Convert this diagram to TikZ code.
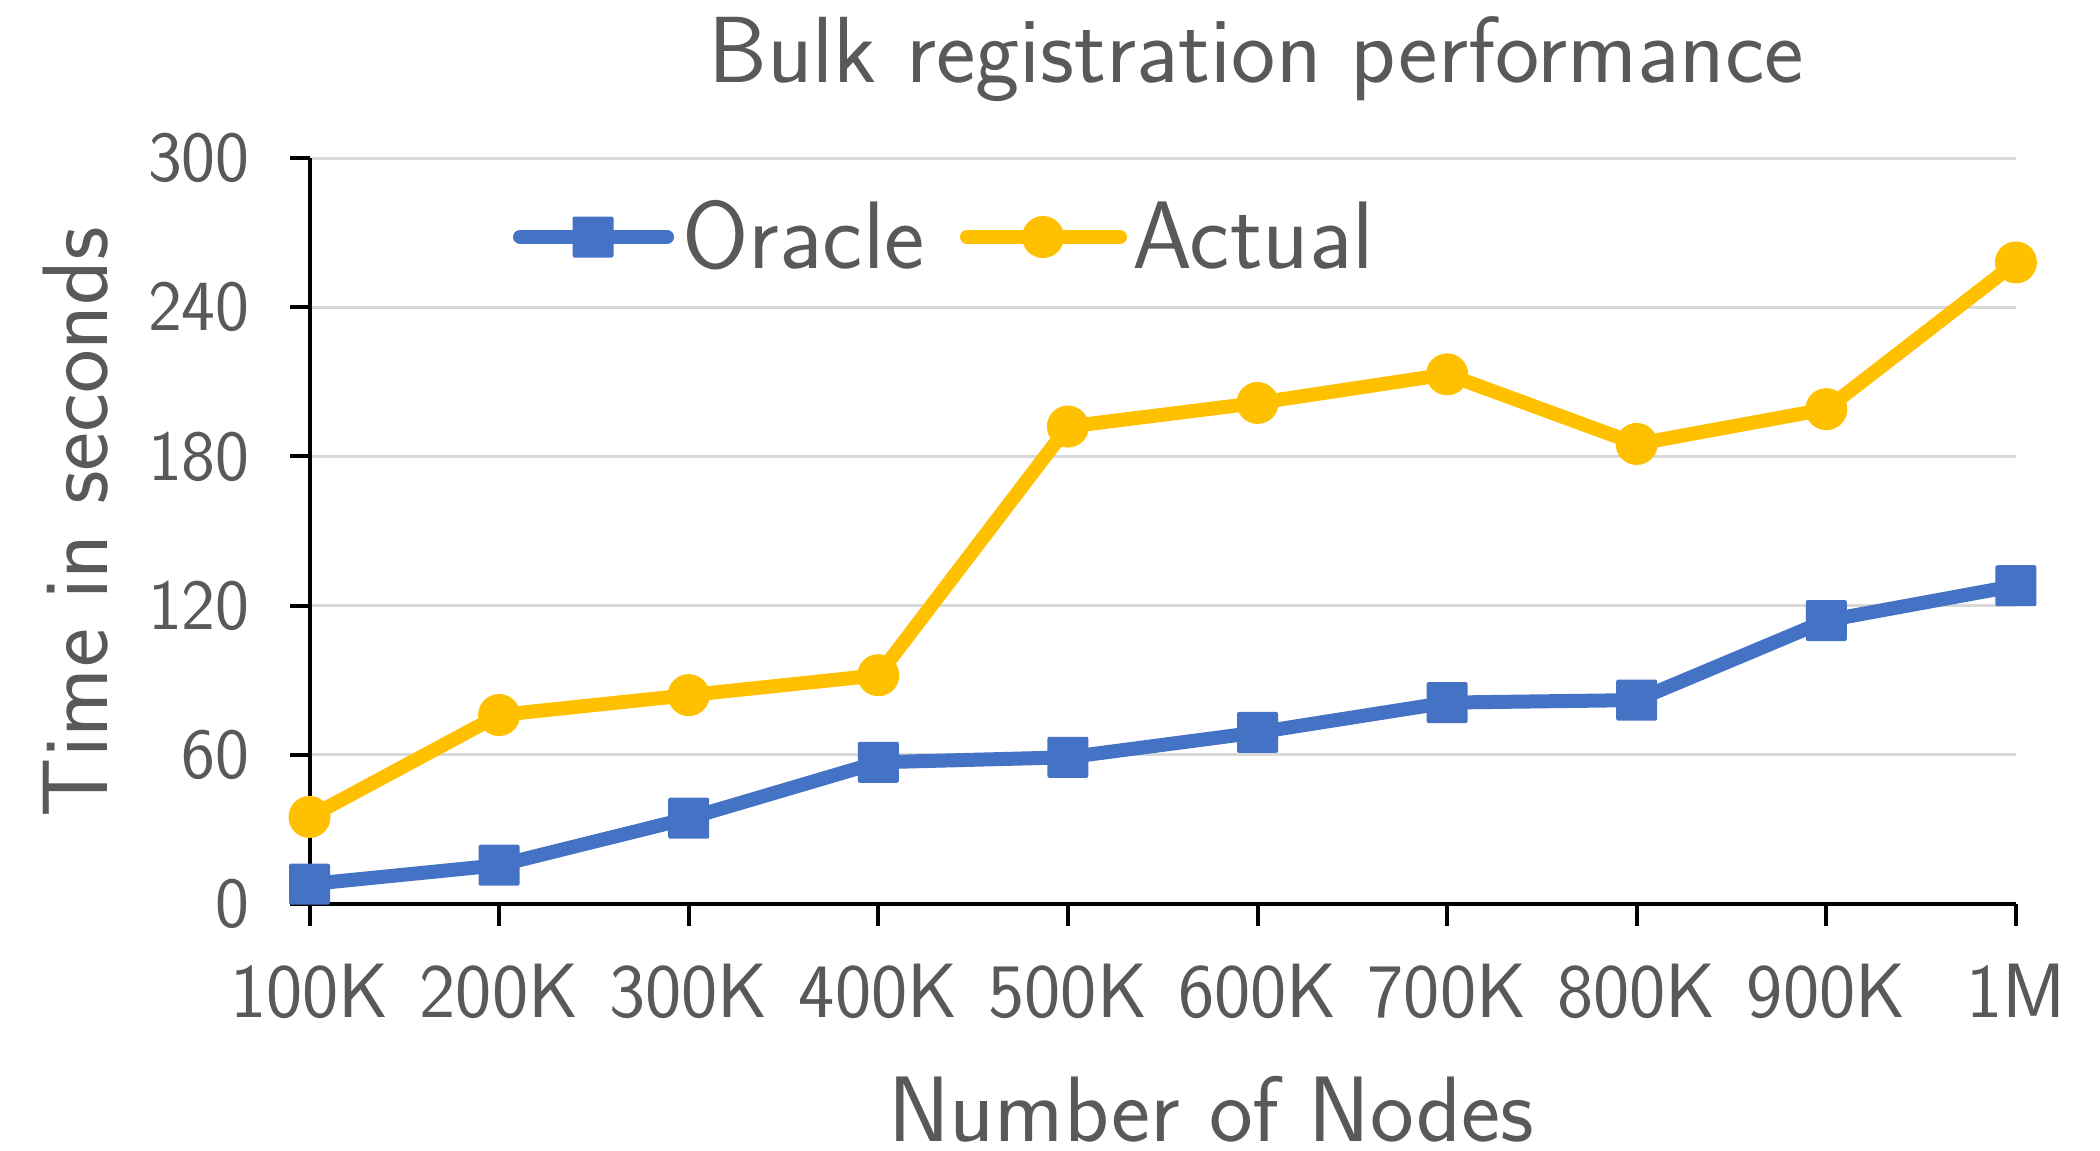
\documentclass[tikz,border=0pt]{standalone}
\definecolor{oraclec}{HTML}{4472C4}
\definecolor{actualc}{HTML}{FFC000}
\definecolor{txt}{HTML}{595959}
\definecolor{gridc}{HTML}{D9D9D9}
\begin{document}
\begin{tikzpicture}[x=0.5pt,y=-0.5pt,font=\sffamily,
  every node/.style={text=txt,inner sep=0pt},
  gridline/.style={draw=gridc,line width=1.5pt},
  axisline/.style={draw=black,line width=2pt},
  oline/.style={draw=oraclec,line width=7pt,line join=round,line cap=round},
  aline/.style={draw=actualc,line width=7pt,line join=round,line cap=round},
  osq/.style={fill=oraclec,minimum size=20.5pt,rounded corners=1pt,draw=none},
  acirc/.style={circle,fill=actualc,minimum size=21pt,draw=none},
  ticklab/.style={font=\sffamily\fontsize{36}{42}\selectfont},
  xlab/.style={font=\sffamily\fontsize{38.5}{46}\selectfont},
  axtitle/.style={font=\sffamily\fontsize{46.5}{54}\selectfont},
  legtext/.style={font=\sffamily\fontsize{48}{56}\selectfont}]
\useasboundingbox[fill=white] (0,0) rectangle (2100,1151);

% title
\node[font=\sffamily\fontsize{47}{56}\selectfont,anchor=base] (title) at (1256,83) {Bulk registration performance};

% horizontal grid lines and y ticks (2.48667 px per second)
\foreach \v [evaluate=\v as \yy using 904-\v*2.48667] in {60,120,180,240,300}{
  \draw[gridline] (310,\yy) -- (2016,\yy);
}
\foreach \v [evaluate=\v as \yy using 904-\v*2.48667] in {0,60,120,180,240,300}{
  \draw[axisline] (290,\yy) -- (310,\yy);
  \node[ticklab,anchor=east] (yl\v) at (250,\yy) {\v};
}

% axes
\draw[axisline] (310,158) -- (310,904) -- (2016,904);

% x ticks and category labels
\foreach \lab [count=\i from 0, evaluate=\i as \xx using 309.5+189.6*\i] in
  {100K,200K,300K,400K,500K,600K,700K,800K,900K,1M}{
  \draw[axisline] (\xx,904) -- (\xx,926);
  \node[xlab] (xl\i) at (\xx,991) {\lab};
}

% axis titles
\node[axtitle] (xtitle) at (1211,1109) {Number of Nodes};
\node[axtitle,rotate=90] (ytitle) at (76,522) {Time in seconds};

% data points
\foreach \v [count=\i from 0, evaluate=\i as \xx using 309.5+189.6*\i,
             evaluate=\v as \yy using 904-\v*2.48667] in
  {8,15.6,34.5,57,59,69,81,82,114,128}{
  \coordinate (o\i) at (\xx,\yy);
}
\foreach \v [count=\i from 0, evaluate=\i as \xx using 309.5+189.6*\i,
             evaluate=\v as \yy using 904-\v*2.48667] in
  {35,76,84,92,192,201.5,213,185,199,258}{
  \coordinate (a\i) at (\xx,\yy);
}

% series lines
\draw[oline] (o0) -- (o1) -- (o2) -- (o3) -- (o4) -- (o5) -- (o6) -- (o7) -- (o8) -- (o9);
\draw[aline] (a0) -- (a1) -- (a2) -- (a3) -- (a4) -- (a5) -- (a6) -- (a7) -- (a8) -- (a9);

% markers
\foreach \i in {0,...,9}{
  \node[osq] (om\i) at (o\i) {};
  \node[acirc] (am\i) at (a\i) {};
}

% legend
\coordinate (lo1) at (520,237);
\coordinate (lo2) at (667,237);
\draw[oline] (lo1) -- (lo2);
\node[osq] (lom) at (593,237) {};
\node[legtext,anchor=base west] (lot) at (682,268) {Oracle};
\coordinate (la1) at (967,237);
\coordinate (la2) at (1120,237);
\draw[aline] (la1) -- (la2);
\node[acirc] (lam) at (1043,237) {};
\node[legtext,anchor=base west] (lat) at (1132,268) {Actual};
\end{tikzpicture}
\end{document}
